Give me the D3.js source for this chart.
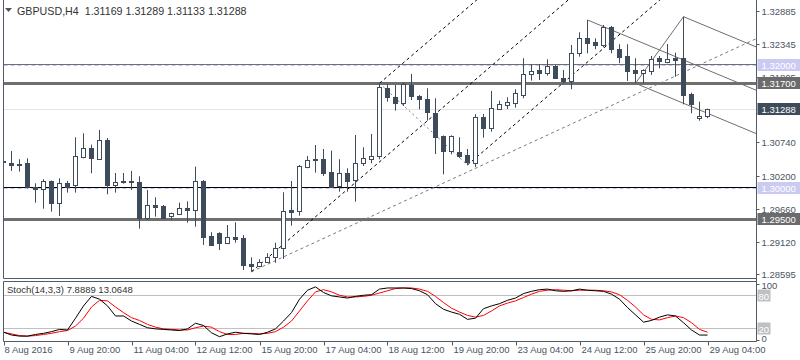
<!DOCTYPE html>
<html><head><meta charset="utf-8">
<script src="https://cdn.jsdelivr.net/npm/d3@7"></script>
<style>
body{margin:0;background:#fff;}
svg{display:block;font-family:"Liberation Sans",Arial,sans-serif;}
</style></head><body>
<svg id="c" width="800" height="360"></svg>
<script>
const symbolTitle = "GBPUSD,H4";
const headerOHLC = ["1.31169","1.31289","1.31133","1.31288"];
const openP = [1.30437,1.30409,1.30388,1.30404,1.30008,1.29976,1.30111,1.29758,1.30074,1.30041,1.30507,1.30644,1.30474,1.30774,1.30041,1.30111,1.30111,1.30090,1.29504,1.29715,1.29709,1.29546,1.29579,1.29671,1.29634,1.30108,1.29215,1.29259,1.29106,1.29194,1.29178,1.28759,1.28732,1.28787,1.28868,1.29015,1.29634,1.29627,1.30344,1.30469,1.30469,1.30253,1.30035,1.30237,1.30127,1.30399,1.30474,1.30513,1.31621,1.31474,1.31377,1.31675,1.31495,1.31442,1.31214,1.30844,1.30605,1.30583,1.30535,1.30404,1.31149,1.30969,1.31284,1.31354,1.31377,1.31512,1.31849,1.31919,1.31865,1.31984,1.31784,1.31745,1.32191,1.32435,1.32375,1.32326,1.32624,1.32256,1.32147,1.31914,1.31865,1.31908,1.32110,1.32049,1.32110,1.32110,1.31528,1.31132,1.31169];
const highP = [1.30779,1.30600,1.30465,1.30481,1.30074,1.30139,1.30119,1.30155,1.30111,1.30823,1.30888,1.30702,1.30942,1.30811,1.30241,1.30241,1.30274,1.30188,1.29965,1.29846,1.29720,1.29595,1.29758,1.29780,1.30344,1.30127,1.29276,1.29276,1.29394,1.29438,1.29232,1.28868,1.28836,1.28934,1.29106,1.29927,1.30111,1.30372,1.30518,1.30697,1.30632,1.30605,1.30465,1.30318,1.30860,1.30660,1.30877,1.31702,1.31686,1.31675,1.31712,1.31854,1.31512,1.31621,1.31458,1.30852,1.30855,1.30823,1.30632,1.31197,1.31202,1.31577,1.31419,1.31474,1.31605,1.32110,1.32012,1.32012,1.32093,1.32000,1.31919,1.32326,1.32533,1.32733,1.32435,1.32652,1.32636,1.32338,1.32338,1.32110,1.31930,1.32147,1.32147,1.32342,1.32201,1.32787,1.31549,1.31403,1.31289];
const lowP = [1.30339,1.30274,1.30263,1.29989,1.29758,1.29660,1.29611,1.29541,1.29921,1.29921,1.30481,1.30237,1.30453,1.29894,1.29921,1.30067,1.29965,1.29334,1.29476,1.29530,1.29492,1.29476,1.29574,1.29432,1.29367,1.29069,1.29052,1.28987,1.29101,1.29106,1.28662,1.28634,1.28715,1.28776,1.28780,1.28841,1.29383,1.29546,1.30318,1.30246,1.30193,1.29997,1.29937,1.29937,1.29774,1.30355,1.30399,1.30465,1.31403,1.31256,1.31333,1.31430,1.31279,1.31093,1.30551,1.30220,1.30546,1.30486,1.30372,1.30339,1.30816,1.30914,1.31267,1.31284,1.31305,1.31458,1.31745,1.31756,1.31826,1.31772,1.31702,1.31605,1.32136,1.32191,1.32256,1.32289,1.32191,1.32028,1.31740,1.31702,1.31702,1.31838,1.31947,1.32028,1.31810,1.31360,1.31214,1.31093,1.31133];
const closeP = [1.30420,1.30364,1.30380,1.30005,1.29973,1.30111,1.29758,1.30074,1.30008,1.30518,1.30644,1.30481,1.30774,1.30041,1.30090,1.30090,1.30087,1.29504,1.29715,1.29693,1.29504,1.29585,1.29666,1.29634,1.30106,1.29204,1.29069,1.29106,1.29194,1.29166,1.28748,1.28732,1.28792,1.28868,1.29015,1.29618,1.29611,1.30351,1.30453,1.30448,1.30246,1.30008,1.30237,1.30116,1.30399,1.30481,1.30513,1.31637,1.31474,1.31377,1.31691,1.31491,1.31442,1.31230,1.30833,1.30605,1.30844,1.30523,1.30425,1.31149,1.30974,1.31295,1.31360,1.31393,1.31539,1.31854,1.31903,1.31865,1.31984,1.31784,1.31740,1.32191,1.32435,1.32354,1.32321,1.32624,1.32256,1.32136,1.31903,1.31865,1.31919,1.32093,1.32070,1.32093,1.32087,1.31512,1.31360,1.31170,1.31288];
const stochK = [13,8,6,6,9,11,14,18,17,38,60,77,72,60,42,42,33,27,21,19,18,17,16,19,29,25,12,5,10,13,11,10,9,13,19,33,48,72,88,94,84,78,76,74,77,79,80,90,92,92,92,91,87,80,64,54,49,45,36,38,55,60,64,70,74,82,86,89,90,87,86,87,90,88,87,86,81,72,57,44,31,34,40,44,42,30,17,8,7.8889];
const stochD = [13,10,7,6,7,9,11,14,16,24,38,58,70,69,58,48,39,34,27,22,19,18,17,17,21,24,22,14,9,9,11,11,10,11,14,22,33,51,69,85,89,85,79,76,76,77,79,83,87,91,92,92,90,86,77,66,56,49,43,40,43,51,60,65,69,75,81,86,88,89,88,87,88,88,88,87,85,80,70,58,44,36,35,39,42,39,30,18,13.0648];
const timeTickIdx = [0,8,16,24,32,40,48,56,64,72,80,88];
const timeTickLabels = ["8 Aug 2016","9 Aug 20:00","11 Aug 04:00","12 Aug 12:00","15 Aug 20:00","17 Aug 04:00","18 Aug 12:00","19 Aug 20:00","23 Aug 04:00","24 Aug 12:00","25 Aug 20:00","29 Aug 04:00"];
const priceTicks = [1.32885,1.32345,1.31805,1.30740,1.30200,1.29660,1.29120,1.28595];
const stochTicks = [100,80,20,0];
// horizontal objects: price, kind
const hLinePrices = [1.32016,1.32000,1.31700,1.31288,1.30005,1.30000,1.29500];
const hLineKinds  = ["thin","alert","thick","bid","black","alert","thick"];
// price tag boxes on the axis
const tagPrices = [1.32000,1.31700,1.31288,1.30000,1.29500];
const tagKinds  = ["alert","level","bid","alert","level"];
// Andrews pitchfork 1 (bar index, price): P1 low, P2 high, P3 low
const pf1 = [[31,1.28634],[47,1.31702],[58,1.30372]];
// Andrews pitchfork 2: P1 high, P2 low, P3 high
const pf2 = [[73,1.32733],[79,1.31702],[85,1.32787]];
// long grey dashed trend ray
const trendRay = [[31,1.28634],[74.5,1.31250]];

const svg = d3.select("#c");
const L = 3.5, R = 756.5, B = 278.5;
const SP_T = 281.5, SP_B = 341.5;
const candleCol = "#3e4b5b", frameCol = "#515c68", textCol = "#4a5562";

const x = d3.scaleLinear().domain([0,88]).range([3.5,707.5]);
const y = d3.scaleLinear().domain([1.285,1.33]).range([279.9,3.6]);
const sy = d3.scaleLinear().domain([0,100]).range([339.5,283.5]);

const defs = svg.append("defs");
defs.append("clipPath").attr("id","mainClip").append("rect").attr("x",L+0.5).attr("y",0).attr("width",R-L-1).attr("height",B-0.5);
defs.append("clipPath").attr("id","stClip").append("rect").attr("x",L+0.5).attr("y",SP_T+0.5).attr("width",R-L-1).attr("height",SP_B-SP_T-1);

const main = svg.append("g").attr("clip-path","url(#mainClip)");

hLinePrices.forEach((p,i)=>{
  const k = hLineKinds[i];
  const yy = Math.round(y(p))+0.5;
  const ln = main.append("line").attr("x1",L).attr("x2",R).attr("y1",yy).attr("y2",yy);
  if(k==="thin") ln.attr("stroke","#6f6f6f").attr("stroke-width",1);
  if(k==="thick") ln.attr("stroke","#6f6f6f").attr("stroke-width",3);
  if(k==="bid") ln.attr("stroke","#e4e4e4").attr("stroke-width",1);
  if(k==="black") ln.attr("stroke","#000").attr("stroke-width",1);
  if(k==="alert") ln.attr("stroke","#c4c4ec").attr("stroke-width",1).attr("stroke-dasharray","4,3");
});

function ray(g, a, b, style){
  const x1 = x(a[0]), y1 = y(a[1]), x2 = x(b[0]), y2 = y(b[1]);
  const t = 3000/Math.hypot(x2-x1,y2-y1);
  g.append("line").attr("x1",x1).attr("y1",y1)
   .attr("x2",x1+(x2-x1)*t).attr("y2",y1+(y2-y1)*t)
   .attr("stroke",style.c).attr("stroke-width",1).attr("stroke-dasharray",style.d||null);
}
function seg(g,a,b,style){
  g.append("line").attr("x1",x(a[0])).attr("y1",y(a[1])).attr("x2",x(b[0])).attr("y2",y(b[1]))
   .attr("stroke",style.c).attr("stroke-width",1).attr("stroke-dasharray",style.d||null);
}
function pitchfork(g, pts, st, connSt){
  const [p1,p2,p3] = pts;
  const m = [(p2[0]+p3[0])/2,(p2[1]+p3[1])/2];
  ray(g,p1,m,st);
  const dx = m[0]-p1[0], dp = m[1]-p1[1];
  ray(g,p2,[p2[0]+dx,p2[1]+dp],st);
  ray(g,p3,[p3[0]+dx,p3[1]+dp],st);
  seg(g,p2,p3,connSt);
}
ray(main, trendRay[0], trendRay[1], {c:"#7a7a7a", d:"3,3"});
pitchfork(main, pf1, {c:"#000", d:"3,3"}, {c:"#7a7a7a", d:"2,3"});
pitchfork(main, pf2, {c:"#6e6e6e"}, {c:"#6e6e6e"});

const idx = d3.range(openP.length);
const cg = main.append("g");
idx.forEach(i=>{
  const cx = x(i);
  cg.append("line").attr("x1",cx).attr("x2",cx).attr("y1",y(highP[i])).attr("y2",y(lowP[i]))
    .attr("stroke",candleCol).attr("stroke-width",1);
  const up = closeP[i] >= openP[i];
  const yt = Math.round(y(Math.max(openP[i],closeP[i]))) + 0.5;
  let yb = Math.round(y(Math.min(openP[i],closeP[i]))) + 0.5;
  if (yb - yt < 1) yb = yt + 1;
  cg.append("rect").attr("x",cx-2).attr("y",yt).attr("width",4).attr("height",yb-yt)
    .attr("fill", up ? "#fff" : candleCol).attr("stroke",candleCol).attr("stroke-width",1);
});

svg.append("line").attr("x1",L).attr("x2",L).attr("y1",0).attr("y2",B).attr("stroke",frameCol);
svg.append("line").attr("x1",L).attr("x2",R).attr("y1",B).attr("y2",B).attr("stroke",frameCol);
svg.append("line").attr("x1",R).attr("x2",R).attr("y1",0).attr("y2",SP_B).attr("stroke",frameCol);

const ax = svg.append("g").attr("font-size","9.5px").attr("fill",textCol);
priceTicks.forEach(p=>{
  const yy = Math.round(y(p))+0.5;
  ax.append("line").attr("x1",R).attr("x2",R+3).attr("y1",yy).attr("y2",yy).attr("stroke",frameCol);
  ax.append("text").attr("x",R+5).attr("y",yy+3.5).text(d3.format(".5f")(p));
});
tagPrices.forEach((p,i)=>{
  const k = tagKinds[i];
  const yy = Math.round(y(p));
  const fill = k==="alert" ? "#cbcbf2" : (k==="bid" ? "#3e4b5b" : "#6b6b6b");
  ax.append("rect").attr("x",R+1).attr("y",yy-6).attr("width",800-R).attr("height",12).attr("fill",fill);
  ax.append("text").attr("x",R+5).attr("y",yy+4).attr("fill","#fff").text(d3.format(".5f")(p));
});

svg.append("path").attr("d","M5,8 L12,8 L8.5,12 Z").attr("fill","#555");
svg.append("text").attr("x",17).attr("y",15).attr("font-size","10.7px").attr("fill","#333")
  .style("white-space","pre")
  .text(symbolTitle + "  " + headerOHLC.join(" "));

svg.append("line").attr("x1",L).attr("x2",R).attr("y1",SP_T).attr("y2",SP_T).attr("stroke",frameCol);
svg.append("line").attr("x1",L).attr("x2",R).attr("y1",SP_B).attr("y2",SP_B).attr("stroke",frameCol);
svg.append("line").attr("x1",L).attr("x2",L).attr("y1",SP_T).attr("y2",SP_B).attr("stroke",frameCol);
const st = svg.append("g").attr("clip-path","url(#stClip)");
[80,20].forEach(v=>{
  const yy = Math.round(sy(v))+0.5;
  st.append("line").attr("x1",L).attr("x2",R).attr("y1",yy).attr("y2",yy).attr("stroke","#c0c0c0");
});
const lineK = d3.line().x((d,i)=>x(i)).y(d=>sy(d));
st.append("path").attr("d",lineK(stochD)).attr("fill","none").attr("stroke","#ff0000").attr("stroke-width",1);
st.append("path").attr("d",lineK(stochK)).attr("fill","none").attr("stroke","#000").attr("stroke-width",1);
svg.append("text").attr("x",7).attr("y",293).attr("font-size","9.5px").attr("fill","#333")
  .text("Stoch(14,3,3) " + d3.format(".4f")(stochK[stochK.length-1]) + " " + d3.format(".4f")(stochD[stochD.length-1]));
stochTicks.forEach(v=>{
  const yy = Math.round(sy(v))+0.5;
  if(v===80||v===20){
    svg.append("rect").attr("x",R+1).attr("y",yy-6).attr("width",13).attr("height",12).attr("fill","#c0c0c0");
    svg.append("text").attr("x",R+2).attr("y",yy+4).attr("font-size","9.5px").attr("fill","#fff").text(v);
  } else {
    svg.append("line").attr("x1",R).attr("x2",R+3).attr("y1",yy).attr("y2",yy).attr("stroke",frameCol);
    svg.append("text").attr("x",R+5).attr("y",yy+(v===100?4:1)).attr("font-size","9.5px").attr("fill",textCol).text(v);
  }
});

timeTickIdx.forEach((k,i)=>{
  const xx = Math.round(x(k))+0.5;
  svg.append("line").attr("x1",xx).attr("x2",xx).attr("y1",SP_B).attr("y2",SP_B+4).attr("stroke",frameCol);
  svg.append("text").attr("x",xx+(i===0?0:1)).attr("y",353).attr("font-size","9.5px").attr("fill",textCol).text(timeTickLabels[i]);
});
</script>
</body></html>
